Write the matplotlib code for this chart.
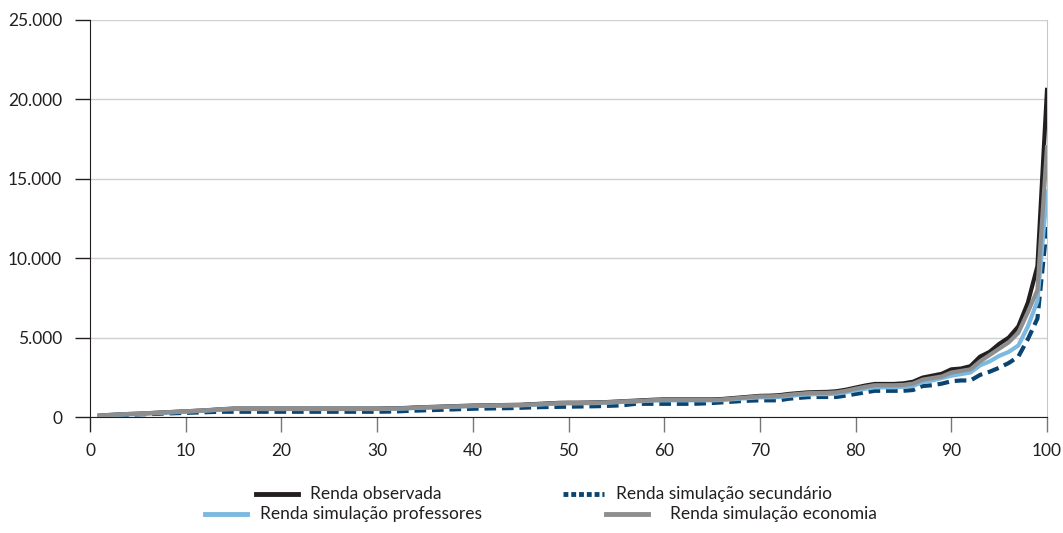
import numpy as np
import matplotlib
matplotlib.use('Agg')
import matplotlib.pyplot as plt
from matplotlib.lines import Line2D
from matplotlib.ticker import FuncFormatter

plt.rcParams['font.family'] = ['Lato', 'DejaVu Sans']

percentis = list(range(1, 101))

renda_economia = [
    80, 120, 150, 180, 200, 230, 260, 290, 320, 350,
    380, 410, 450, 490, 510, 510, 510, 510, 510, 510,
    510, 510, 510, 510, 510, 510, 510, 510, 510, 510,
    520, 530, 550, 580, 600, 620, 640, 660, 680, 700,
    710, 720, 730, 740, 750, 780, 810, 840, 870, 880,
    880, 890, 900, 920, 950, 980, 1000, 1030, 1060, 1080,
    1080, 1080, 1080, 1080, 1080, 1100, 1150, 1200, 1250, 1300,
    1300, 1320, 1400, 1450, 1500, 1520, 1520, 1550, 1650, 1780,
    1900, 2000, 2000, 2000, 2020, 2100, 2350, 2450, 2550, 2800,
    2900, 3000, 3500, 3900, 4300, 4700, 5300, 6600, 8000, 17000]

renda_observada = [
    90, 130, 160, 190, 210, 240, 270, 300, 330, 360,
    390, 420, 460, 500, 530, 530, 530, 530, 530, 530,
    530, 530, 530, 530, 530, 530, 530, 530, 530, 530,
    540, 550, 570, 600, 620, 640, 660, 680, 700, 720,
    730, 740, 750, 760, 770, 800, 830, 860, 890, 900,
    900, 910, 920, 940, 970, 1000, 1030, 1060, 1090, 1110,
    1110, 1110, 1110, 1110, 1110, 1130, 1180, 1230, 1280, 1330,
    1340, 1370, 1450, 1500, 1550, 1570, 1580, 1620, 1720, 1850,
    1980, 2080, 2080, 2080, 2120, 2220, 2480, 2600, 2720, 3000,
    3050, 3200, 3800, 4100, 4600, 5000, 5700, 7200, 9500, 20600]

renda_professores = [
    70, 110, 140, 170, 190, 220, 250, 280, 310, 340,
    370, 400, 440, 480, 500, 500, 500, 500, 500, 500,
    500, 500, 500, 500, 500, 500, 500, 500, 500, 500,
    510, 520, 540, 570, 590, 610, 630, 650, 670, 690,
    700, 710, 720, 730, 740, 760, 790, 820, 850, 860,
    860, 870, 880, 900, 930, 960, 980, 1010, 1040, 1050,
    1050, 1050, 1050, 1050, 1050, 1070, 1110, 1160, 1200, 1240,
    1240, 1260, 1330, 1380, 1420, 1440, 1440, 1470, 1560, 1680,
    1780, 1870, 1870, 1870, 1900, 1950, 2200, 2300, 2450, 2600,
    2700, 2800, 3250, 3500, 3850, 4100, 4500, 5700, 7300, 14200]

renda_secundario = [
    50, 80, 110, 140, 160, 180, 200, 220, 240, 260,
    280, 300, 320, 330, 330, 330, 330, 330, 330, 330,
    330, 330, 330, 330, 330, 330, 330, 330, 330, 330,
    340, 350, 380, 400, 420, 440, 460, 480, 500, 520,
    530, 540, 550, 560, 580, 600, 620, 630, 640, 650,
    660, 670, 680, 700, 720, 760, 830, 830, 830, 830,
    830, 830, 830, 850, 880, 920, 960, 1000, 1030, 1050,
    1050, 1050, 1150, 1200, 1250, 1260, 1260, 1260, 1350, 1450,
    1550, 1650, 1650, 1650, 1650, 1700, 1950, 2000, 2100, 2250,
    2300, 2300, 2650, 2850, 3100, 3400, 3800, 4900, 6200, 12100]

labels = ['Renda observada', 'Renda simulação secundário',
          'Renda simulação professores', 'Renda simulação economia']

c_obs = '#231f20'
c_sec = '#0b4470'
c_prof = '#7cb9e0'
c_eco = '#8e8e8e'

fig = plt.figure(figsize=(10.63, 5.33), dpi=100)
ax = fig.add_axes([90 / 1063, 1 - 417 / 533, (1047 - 90) / 1063, (417 - 20) / 533])

ax.plot(percentis, renda_observada, color=c_obs, lw=3.0, zorder=3)
ax.plot(percentis, renda_secundario, color=c_sec, lw=3.0, linestyle=(0, (2.8, 1.4)), zorder=4)
ax.plot(percentis, renda_professores, color=c_prof, lw=3.0, zorder=5)
ax.plot(percentis, renda_economia, color=c_eco, lw=3.0, zorder=6)

ax.set_xlim(0, 100)
ax.set_ylim(0, 25000)
ax.set_xticks(range(0, 101, 10))
ax.set_yticks(range(0, 25001, 5000))
ax.yaxis.set_major_formatter(FuncFormatter(lambda v, p: f'{int(v):,}'.replace(',', '.')))

ax.grid(axis='y', color='#d0d0d0', lw=1)
ax.set_axisbelow(True)
ax.spines['top'].set_visible(False)
ax.spines['right'].set_color('#c8c8c8')
ax.spines['left'].set_color('#231f20')
ax.spines['bottom'].set_color('#231f20')
ax.spines['left'].set_bounds(-900, 25000)

ax.tick_params(axis='y', length=11, width=1, color='#231f20', pad=9,
               labelsize=12.5, labelcolor='#231f20')
ax.tick_params(axis='x', length=11, width=1, color='#777777', pad=8,
               labelsize=12.5, labelcolor='#231f20')

# legenda em duas linhas, desencontrada como no original
entradas = [
    (labels[0], c_obs, '-', 256, 298, 310, 494),
    (labels[1], c_sec, (0, (1.0, 0.6)), 563, 604, 616, 494),
    (labels[2], c_prof, '-', 205, 247, 260, 514),
    (labels[3], c_eco, '-', 606, 648, 670, 514),
]
for txt, cor, ls, x0, x1, xt, yy in entradas:
    y = 1 - yy / 533
    fig.add_artist(Line2D([x0 / 1063, x1 / 1063], [y, y], color=cor, lw=3.5,
                          linestyle=ls, transform=fig.transFigure))
    fig.text(xt / 1063, y, txt, fontsize=12.5, color='#231f20',
             va='center', ha='left')

fig.savefig('out.png', dpi=100)
